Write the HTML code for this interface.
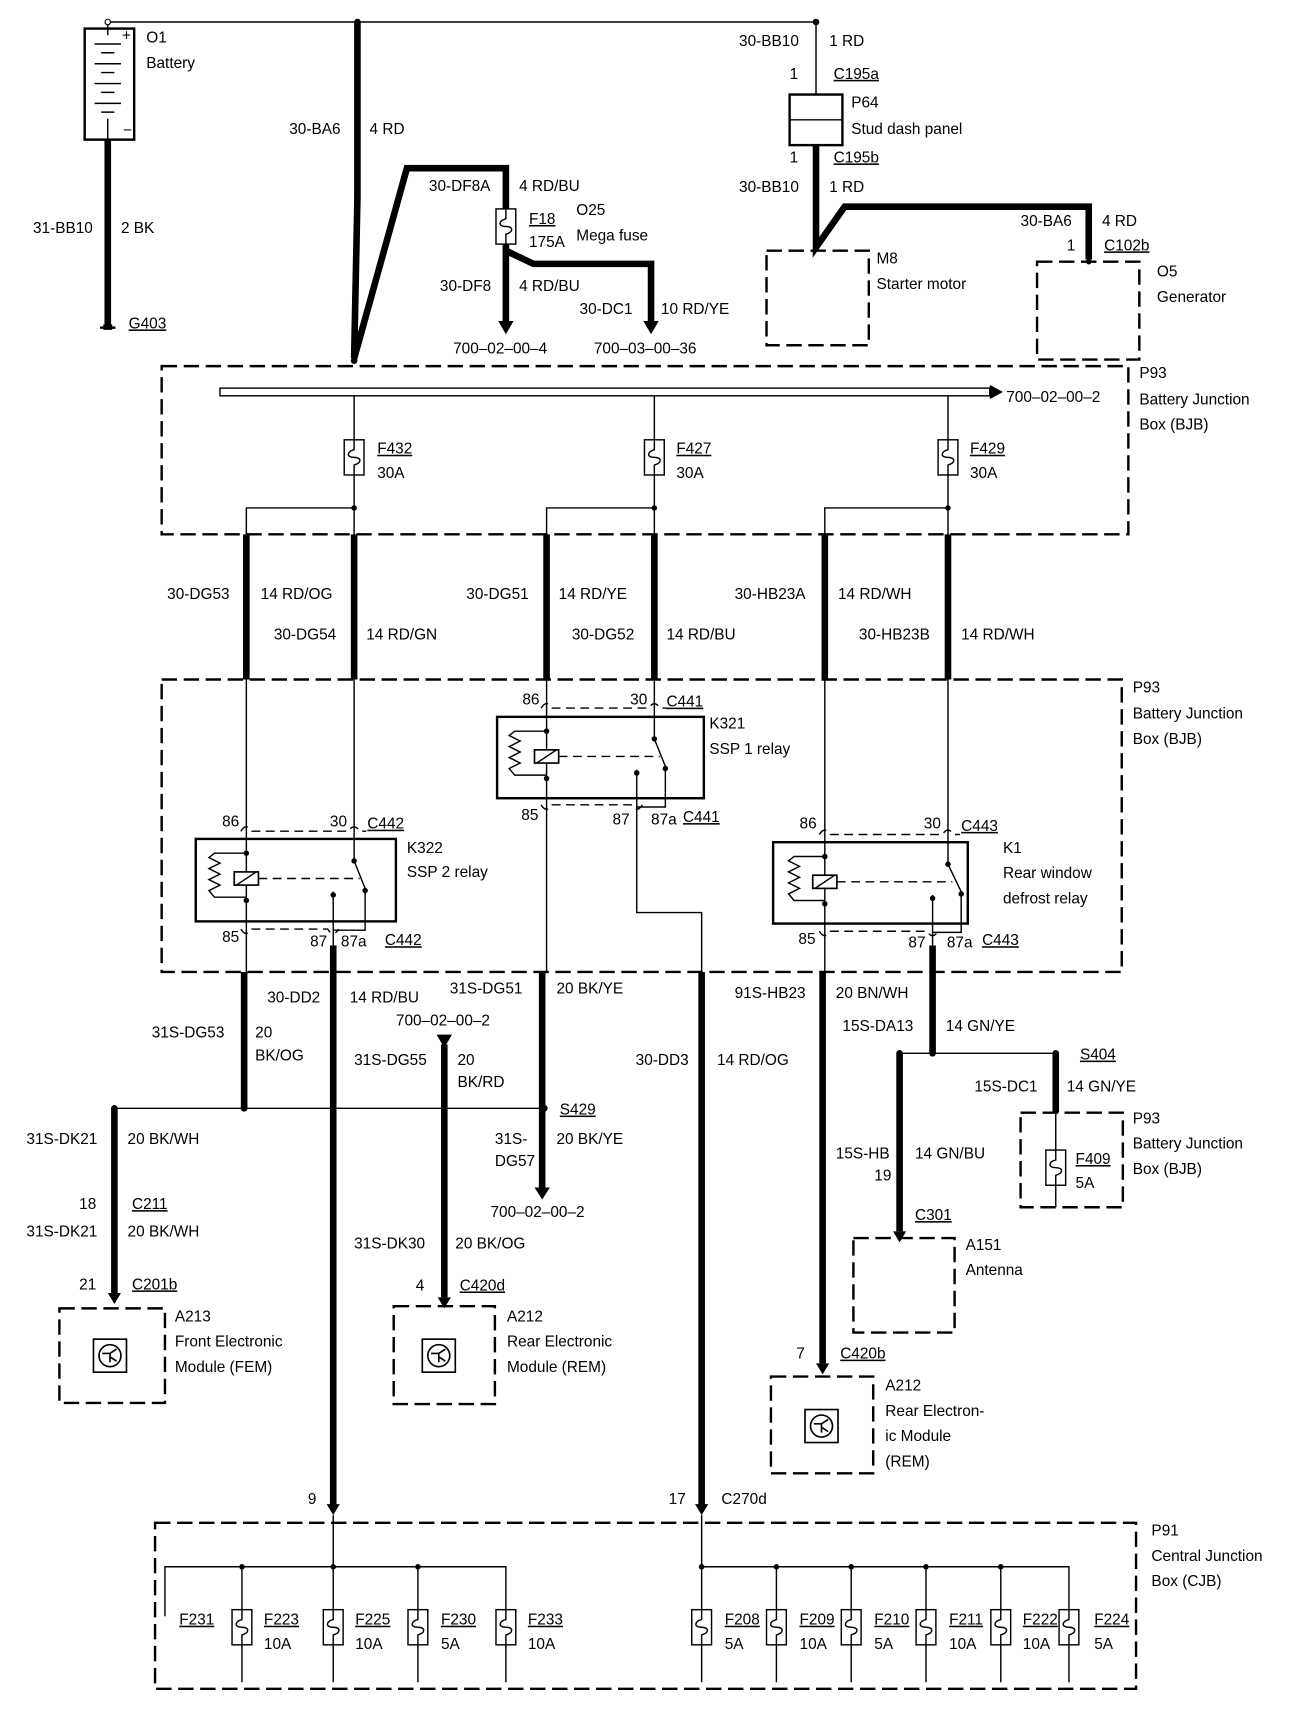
<!DOCTYPE html>
<html><head><meta charset="utf-8"><style>
html,body{margin:0;padding:0;background:#fff}
svg{display:block}
text{font-family:"Liberation Sans",sans-serif;font-size:14px;fill:#000;dominant-baseline:middle}
.t{stroke:#000;stroke-width:1.3;fill:none}
.k{stroke:#000;stroke-width:6;fill:none}
.d{stroke:#000;stroke-width:2.2;fill:none;stroke-dasharray:14,6}
.dd{stroke:#000;stroke-width:1.3;fill:none;stroke-dasharray:8,5}
.b{stroke:#000;stroke-width:2.2;fill:none}
.u{text-decoration:underline}
</style></head><body>
<svg width="1312" height="1724" viewBox="0 0 1193 1568" preserveAspectRatio="none" xmlns="http://www.w3.org/2000/svg">
<defs>
<symbol id="fz" viewBox="0 0 18 32" width="18" height="32" overflow="visible">
<rect x="0" y="0" width="18" height="32" fill="#fff" stroke="#000" stroke-width="1.3"/>
<path d="M9,0 V9 C2,11 2,16 9,16 C16,16 16,21 9,23 V32" fill="none" stroke="#000" stroke-width="1.3"/>
</symbol>
<symbol id="mod" viewBox="0 0 30 30" width="30" height="30" overflow="visible">
<rect x="0" y="0" width="30" height="30" fill="none" stroke="#000" stroke-width="1.5"/>
<circle cx="15" cy="15" r="10" fill="none" stroke="#000" stroke-width="1.5"/>
<path d="M8,13 H15 V21 M15,13 L21,9 M15,16 L21,20" fill="none" stroke="#000" stroke-width="1.5"/>
</symbol>
</defs>

<!-- Battery -->
<rect x="77" y="26" width="45" height="101" class="b"/>
<path class="t" d="M98,20 V32 M86,40 H110 M92,48 H104 M86,58 H110 M92,66 H104 M86,76 H110 M92,84 H104 M86,94 H110 M92,102 H104 M98,108 V127"/>
<text x="111" y="33" font-size="11">+</text><text x="112" y="119" font-size="11">−</text>
<path class="k" d="M98,127 V296"/>
<path class="b" d="M91,298 H105"/><rect x="94" y="295" width="8" height="5"/>
<text x="133" y="35">O1</text><text x="133" y="58">Battery</text>
<text x="30" y="208">31-BB10</text><text x="110" y="208">2 BK</text>
<text x="117" y="295" class="u">G403</text>

<!-- top bus -->
<path class="t" d="M98,20 H742"/>
<circle cx="98" cy="20" r="2.5" fill="#fff" stroke="#000"/>
<circle cx="325" cy="20" r="3"/><circle cx="742" cy="20" r="3"/>
<path class="k" d="M325,20 V180 L322,326"/>
<text x="263" y="118">30-BA6</text><text x="336" y="118">4 RD</text>
<path class="k" d="M322,326 L370,153 H460 V190"/>
<use href="#fz" x="451" y="190"/>
<path class="k" d="M460,222 V292 M460,228 L485,240 H592 V292"/>
<path d="M453,292 H467 L460,304 Z M585,292 H599 L592,304 Z"/>
<circle cx="322" cy="328" r="3"/>
<text x="390" y="170">30-DF8A</text><text x="472" y="170">4 RD/BU</text>
<text x="481" y="200" class="u">F18</text><text x="481" y="221">175A</text>
<text x="524" y="192">O25</text><text x="524" y="215">Mega fuse</text>
<text x="400" y="261">30-DF8</text><text x="472" y="261">4 RD/BU</text>
<text x="527" y="282">30-DC1</text><text x="601" y="282">10 RD/YE</text>
<text x="412" y="318">700–02–00–4</text><text x="540" y="318">700–03–00–36</text>

<!-- right top -->
<path class="t" d="M742,20 V86"/>
<rect x="718" y="86" width="48" height="46" class="b"/>
<path class="t" d="M718,109 H766"/>
<path class="k" d="M742,132 V225 L768,188 H990 V236"/>
<circle cx="742" cy="226" r="2.5"/><circle cx="990" cy="238" r="2.5"/>
<text x="672" y="38">30-BB10</text><text x="754" y="38">1 RD</text>
<text x="718" y="68">1</text><text x="758" y="68" class="u">C195a</text>
<text x="774" y="94">P64</text><text x="774" y="118">Stud dash panel</text>
<text x="718" y="144">1</text><text x="758" y="144" class="u">C195b</text>
<text x="672" y="171">30-BB10</text><text x="754" y="171">1 RD</text>
<text x="928" y="202">30-BA6</text><text x="1002" y="202">4 RD</text>
<text x="970" y="224">1</text><text x="1004" y="224" class="u">C102b</text>
<rect x="697" y="228" width="93" height="86" class="d"/>
<text x="797" y="236">M8</text><text x="797" y="259">Starter motor</text>
<rect x="943" y="238" width="93" height="89" class="d"/>
<text x="1052" y="248">O5</text><text x="1052" y="271">Generator</text>

<!-- BJB top -->
<rect x="147" y="333" width="879" height="153" class="d"/>
<rect x="200" y="353" width="700" height="7" fill="none" stroke="#000" stroke-width="1.3"/>
<path d="M900,350 L912,356.5 L900,363 Z"/>
<text x="915" y="362">700–02–00–2</text>
<text x="1036" y="340">P93</text><text x="1036" y="364">Battery Junction</text><text x="1036" y="387">Box (BJB)</text>
<path class="t" d="M322,360 V400 M322,432 V462 H224 V486 M595,360 V400 M595,432 V462 H497 V486 M862,360 V400 M862,432 V462 H750 V486 M322,462 V486 M595,462 V486 M862,462 V486"/>
<use href="#fz" x="313" y="400"/><use href="#fz" x="586" y="400"/><use href="#fz" x="853" y="400"/>
<circle cx="322" cy="462" r="2.5"/><circle cx="595" cy="462" r="2.5"/><circle cx="862" cy="462" r="2.5"/>
<text x="343" y="409" class="u">F432</text><text x="343" y="431">30A</text>
<text x="615" y="409" class="u">F427</text><text x="615" y="431">30A</text>
<text x="882" y="409" class="u">F429</text><text x="882" y="431">30A</text>

<path class="k" d="M224,486 V618 M322,486 V618 M497,486 V618 M595,486 V618 M750,486 V618 M862,486 V618"/>
<text x="152" y="541">30-DG53</text><text x="237" y="541">14 RD/OG</text>
<text x="249" y="578">30-DG54</text><text x="333" y="578">14 RD/GN</text>
<text x="424" y="541">30-DG51</text><text x="508" y="541">14 RD/YE</text>
<text x="520" y="578">30-DG52</text><text x="606" y="578">14 RD/BU</text>
<text x="668" y="541">30-HB23A</text><text x="762" y="541">14 RD/WH</text>
<text x="781" y="578">30-HB23B</text><text x="874" y="578">14 RD/WH</text>

<!-- BJB 2 -->
<rect x="147" y="618" width="873" height="266" class="d"/>
<text x="1030" y="626">P93</text><text x="1030" y="650">Battery Junction</text><text x="1030" y="673">Box (BJB)</text>

<!-- K321 -->
<path class="t" d="M497,618 V652 M595,618 V652"/>
<path class="dd" d="M492,644 Q497,636 502,644 H590 Q595,636 600,644 H606"/>
<rect x="452" y="652" width="188" height="74" class="b"/>
<path class="t" d="M497,652 V726 M497,665 H468 L463,669 L473,674 L463,679 L473,684 L463,689 L473,694 L463,699 L468,705 H497"/>
<circle cx="497" cy="665" r="2.5"/><circle cx="497" cy="708" r="2.5"/>
<rect x="486" y="682" width="22" height="12" fill="#fff" stroke="#000" stroke-width="1.5"/>
<path class="t" d="M488,694 L506,682"/>
<path class="dd" d="M508,688 H600"/>
<path class="t" d="M595,652 V672 L605,697 M579,700 V740 M605,700 V734 H579"/>
<circle cx="595" cy="672" r="2.5"/><circle cx="605" cy="699" r="2.5"/><circle cx="579" cy="703" r="2.5"/>
<path class="dd" d="M492,732 Q497,740 502,732 H574 Q579,740 584,732"/>
<path class="t" d="M497,726 V884"/>
<path class="t" d="M579,740 V830 H638 V884"/>
<text x="475" y="637">86</text><text x="573" y="637">30</text><text x="606" y="639" class="u">C441</text>
<text x="645" y="659">K321</text><text x="645" y="682">SSP 1 relay</text>
<text x="474" y="742">85</text><text x="557" y="746">87</text><text x="592" y="746">87a</text><text x="621" y="744" class="u">C441</text>

<!-- K322 -->
<path class="t" d="M224,618 V763 M322,618 V763"/>
<path class="dd" d="M219,756 Q224,748 229,756 H317 Q322,748 327,756 H333"/>
<rect x="178" y="763" width="182" height="75" class="b"/>
<path class="t" d="M224,763 V838 M224,776 H195 L190,780 L200,785 L190,790 L200,795 L190,800 L200,805 L190,810 L195,816 H224"/>
<circle cx="224" cy="776" r="2.5"/><circle cx="224" cy="819" r="2.5"/>
<rect x="213" y="793" width="22" height="12" fill="#fff" stroke="#000" stroke-width="1.5"/>
<path class="t" d="M215,805 L233,793"/>
<path class="dd" d="M235,799 H327"/>
<path class="t" d="M322,763 V783 L332,808 M303,811 V860 M332,811 V846 H303"/>
<circle cx="322" cy="783" r="2.5"/><circle cx="332" cy="810" r="2.5"/><circle cx="303" cy="814" r="2.5"/>
<path class="dd" d="M219,845 Q224,853 229,845 H298 Q303,853 308,845"/>
<path class="t" d="M224,838 V884"/>
<text x="202" y="748">86</text><text x="300" y="748">30</text><text x="334" y="750" class="u">C442</text>
<text x="370" y="772">K322</text><text x="370" y="794">SSP 2 relay</text>
<text x="202" y="853">85</text><text x="282" y="857">87</text><text x="310" y="857">87a</text><text x="350" y="856" class="u">C442</text>

<!-- K1 -->
<path class="t" d="M750,618 V766 M862,618 V766"/>
<path class="dd" d="M745,759 Q750,751 755,759 H857 Q862,751 867,759 H873"/>
<rect x="703" y="766" width="177" height="74" class="b"/>
<path class="t" d="M750,766 V840 M750,779 H722 L717,783 L727,788 L717,793 L727,798 L717,803 L727,808 L717,813 L722,819 H750"/>
<circle cx="750" cy="779" r="2.5"/><circle cx="750" cy="822" r="2.5"/>
<rect x="739" y="796" width="22" height="12" fill="#fff" stroke="#000" stroke-width="1.5"/>
<path class="t" d="M741,808 L759,796"/>
<path class="dd" d="M761,802 H866"/>
<path class="t" d="M862,766 V786 L874,811 M848,814 V862 M874,814 V848 H848"/>
<circle cx="862" cy="786" r="2.5"/><circle cx="874" cy="813" r="2.5"/><circle cx="848" cy="817" r="2.5"/>
<path class="dd" d="M745,847 Q750,855 755,847 H843 Q848,855 853,847"/>
<path class="t" d="M750,840 V884"/>
<text x="727" y="750">86</text><text x="840" y="750">30</text><text x="874" y="752" class="u">C443</text>
<text x="912" y="772">K1</text><text x="912" y="795">Rear window</text><text x="912" y="818">defrost relay</text>
<text x="726" y="855">85</text><text x="826" y="858">87</text><text x="861" y="858">87a</text><text x="893" y="856" class="u">C443</text>

<!-- below BJB left -->
<path class="k" d="M222,884 V1008"/>
<path class="k" d="M303,860 V1370"/>
<path class="t" d="M104,1008 H495"/>
<circle cx="104" cy="1008" r="3"/><circle cx="222" cy="1008" r="3"/><circle cx="404" cy="1008" r="3"/><circle cx="495" cy="1008" r="3"/>
<text x="243" y="908">30-DD2</text><text x="318" y="908">14 RD/BU</text>
<text x="138" y="940">31S-DG53</text><text x="232" y="940">20</text><text x="232" y="961">BK/OG</text>
<path class="k" d="M104,1008 V1176"/>
<path d="M98,1176 H110 L104,1186 Z"/>
<text x="24" y="1037">31S-DK21</text><text x="116" y="1037">20 BK/WH</text>
<text x="72" y="1096">18</text><text x="120" y="1096" class="u">C211</text>
<text x="24" y="1121">31S-DK21</text><text x="116" y="1121">20 BK/WH</text>
<text x="72" y="1169">21</text><text x="120" y="1169" class="u">C201b</text>
<rect x="54" y="1190" width="96" height="86" class="d"/>
<use href="#mod" x="85" y="1218"/>
<text x="159" y="1198">A213</text><text x="159" y="1221">Front Electronic</text><text x="159" y="1244">Module (FEM)</text>

<!-- REM middle -->
<text x="360" y="929">700–02–00–2</text>
<path d="M397,941 H411 L404,953 Z"/>
<path class="k" d="M404,950 V1180"/>
<path d="M398,1180 H410 L404,1190 Z"/>
<text x="322" y="965">31S-DG55</text><text x="416" y="965">20</text><text x="416" y="985">BK/RD</text>
<text x="322" y="1132">31S-DK30</text><text x="414" y="1132">20 BK/OG</text>
<text x="378" y="1170">4</text><text x="418" y="1170" class="u">C420d</text>
<rect x="358" y="1188" width="92" height="89" class="d"/>
<use href="#mod" x="384" y="1218"/>
<text x="461" y="1198">A212</text><text x="461" y="1221">Rear Electronic</text><text x="461" y="1244">Module (REM)</text>

<path class="k" d="M493,884 V1080"/>
<path d="M486,1080 H500 L493,1091 Z"/>
<text x="409" y="900">31S-DG51</text><text x="506" y="900">20 BK/YE</text>
<text x="509" y="1010" class="u">S429</text>
<text x="450" y="1037">31S-</text><text x="450" y="1057">DG57</text><text x="506" y="1037">20 BK/YE</text>
<text x="446" y="1103">700–02–00–2</text>

<path class="k" d="M638,884 V1370"/>
<text x="578" y="965">30-DD3</text><text x="652" y="965">14 RD/OG</text>

<!-- right side -->
<path class="k" d="M748,884 V1240"/>
<path d="M742,1240 H754 L748,1250 Z"/>
<text x="668" y="904">91S-HB23</text><text x="760" y="904">20 BN/WH</text>
<text x="724" y="1232">7</text><text x="764" y="1232" class="u">C420b</text>
<rect x="701" y="1252" width="93" height="88" class="d"/>
<use href="#mod" x="732" y="1282"/>
<text x="805" y="1261">A212</text><text x="805" y="1284">Rear Electron-</text><text x="805" y="1307">ic Module</text><text x="805" y="1330">(REM)</text>

<path class="k" d="M848,860 V958"/>
<path class="t" d="M818,958 H960"/>
<circle cx="818" cy="958" r="3"/><circle cx="848" cy="958" r="3"/><circle cx="960" cy="958" r="3"/>
<text x="766" y="934">15S-DA13</text><text x="860" y="934">14 GN/YE</text>
<text x="982" y="960" class="u">S404</text>
<path class="k" d="M960,958 V1012"/>
<path class="t" d="M960,1012 V1046 M960,1078 V1098"/>
<text x="886" y="989">15S-DC1</text><text x="970" y="989">14 GN/YE</text>
<rect x="928" y="1012" width="93" height="86" class="d"/>
<use href="#fz" x="951" y="1046"/>
<text x="978" y="1055" class="u">F409</text><text x="978" y="1077">5A</text>
<text x="1030" y="1018">P93</text><text x="1030" y="1041">Battery Junction</text><text x="1030" y="1064">Box (BJB)</text>

<path class="k" d="M818,958 V1120"/>
<path d="M812,1120 H824 L818,1130 Z"/>
<text x="760" y="1050">15S-HB</text><text x="795" y="1070">19</text><text x="832" y="1050">14 GN/BU</text>
<text x="832" y="1106" class="u">C301</text>
<rect x="776" y="1126" width="92" height="86" class="d"/>
<text x="878" y="1133">A151</text><text x="878" y="1156">Antenna</text>

<!-- bottom CJB -->
<path d="M297,1368 H309 L303,1378 Z M632,1368 H644 L638,1378 Z"/>
<text x="280" y="1364">9</text><text x="608" y="1364">17</text><text x="656" y="1364">C270d</text>
<rect x="141" y="1385" width="892" height="151" class="d"/>
<text x="1047" y="1393">P91</text><text x="1047" y="1416">Central Junction</text><text x="1047" y="1439">Box (CJB)</text>
<path class="t" d="M303,1378 V1466 M150,1470 V1425 H460 V1466 M220,1425 V1466 M380,1425 V1466 M303,1496 V1530 M220,1496 V1530 M380,1496 V1530 M460,1496 V1530"/>
<circle cx="220" cy="1425" r="2.5"/><circle cx="303" cy="1425" r="2.5"/><circle cx="380" cy="1425" r="2.5"/>
<use href="#fz" x="211" y="1464"/><use href="#fz" x="294" y="1464"/><use href="#fz" x="371" y="1464"/><use href="#fz" x="451" y="1464"/>
<text x="163" y="1474" class="u">F231</text>
<text x="240" y="1474" class="u">F223</text><text x="240" y="1496">10A</text>
<text x="323" y="1474" class="u">F225</text><text x="323" y="1496">10A</text>
<text x="401" y="1474" class="u">F230</text><text x="401" y="1496">5A</text>
<text x="480" y="1474" class="u">F233</text><text x="480" y="1496">10A</text>

<path class="t" d="M638,1378 V1466 M638,1425 H972 V1466 M706,1425 V1466 M774,1425 V1466 M842,1425 V1466 M910,1425 V1466 M638,1496 V1530 M706,1496 V1530 M774,1496 V1530 M842,1496 V1530 M910,1496 V1530 M972,1496 V1530"/>
<circle cx="638" cy="1425" r="2.5"/><circle cx="706" cy="1425" r="2.5"/><circle cx="774" cy="1425" r="2.5"/><circle cx="842" cy="1425" r="2.5"/><circle cx="910" cy="1425" r="2.5"/>
<use href="#fz" x="629" y="1464"/><use href="#fz" x="697" y="1464"/><use href="#fz" x="765" y="1464"/><use href="#fz" x="833" y="1464"/><use href="#fz" x="901" y="1464"/><use href="#fz" x="963" y="1464"/>
<text x="659" y="1474" class="u">F208</text><text x="659" y="1496">5A</text>
<text x="727" y="1474" class="u">F209</text><text x="727" y="1496">10A</text>
<text x="795" y="1474" class="u">F210</text><text x="795" y="1496">5A</text>
<text x="863" y="1474" class="u">F211</text><text x="863" y="1496">10A</text>
<text x="930" y="1474" class="u">F222</text><text x="930" y="1496">10A</text>
<text x="995" y="1474" class="u">F224</text><text x="995" y="1496">5A</text>
</svg>
</body></html>
